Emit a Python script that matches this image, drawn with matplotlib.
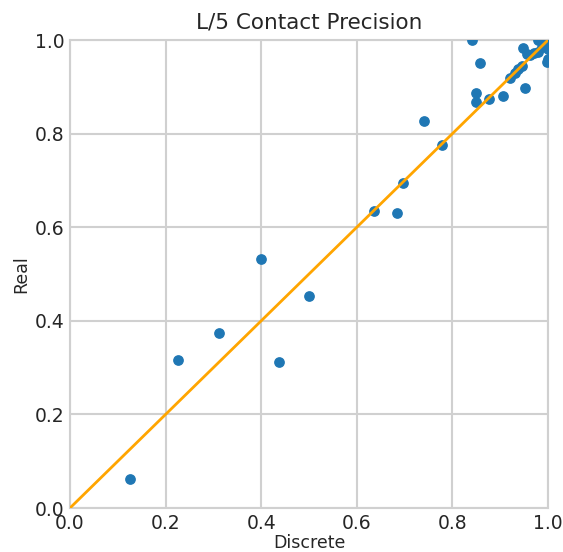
import numpy as np
import matplotlib
matplotlib.use('Agg')
import matplotlib.pyplot as plt

# discrete vs real L/5 contact precision
discrete = [0.125, 0.226, 0.3125, 0.400, 0.437, 0.500, 0.637, 0.685, 0.697,
            0.740, 0.779, 0.842, 0.849, 0.849, 0.858, 0.877, 0.906, 0.921,
            0.930, 0.938, 0.945, 0.951, 0.948, 0.955, 0.962, 0.970, 0.978,
            0.980, 0.988, 0.993, 0.997, 1.000, 1.000, 1.000, 1.000]
real = [0.0625, 0.316, 0.375, 0.533, 0.311, 0.453, 0.635, 0.631, 0.694,
        0.826, 0.776, 1.000, 0.886, 0.868, 0.951, 0.874, 0.881, 0.919,
        0.930, 0.938, 0.945, 0.898, 0.982, 0.970, 0.968, 0.972, 1.000,
        0.975, 0.985, 0.990, 0.952, 1.000, 0.980, 0.960, 0.990]

plt.style.use('seaborn-v0_8-whitegrid')
plt.rcParams['font.family'] = ['DejaVu Sans']
fig, ax = plt.subplots(figsize=(5.63, 5.52), dpi=100)

ax.scatter(discrete, real, color='#1f77b4', s=45, zorder=3)
ax.plot([0, 1], [0, 1], color='orange', linewidth=2, zorder=4)

ax.set_xlim(0, 1)
ax.set_ylim(0, 1)
ax.grid(True, color='#d0d0d0', linewidth=1.5)
ax.set_title('L/5 Contact Precision', fontsize=15.5, color='#262626', pad=8)
ax.set_xlabel('Discrete', fontsize=12.5, color='#262626', labelpad=1)
ax.set_ylabel('Real', fontsize=12.5, color='#262626', labelpad=3)
ax.tick_params(labelsize=13.5, labelcolor='#262626', pad=4)
for s in ax.spines.values():
    s.set_visible(True)
    s.set_color('#d0d0d0')
    s.set_linewidth(1.5)

plt.subplots_adjust(left=0.1243, right=0.9734, bottom=0.0797, top=0.9275)
plt.savefig('out.png')
